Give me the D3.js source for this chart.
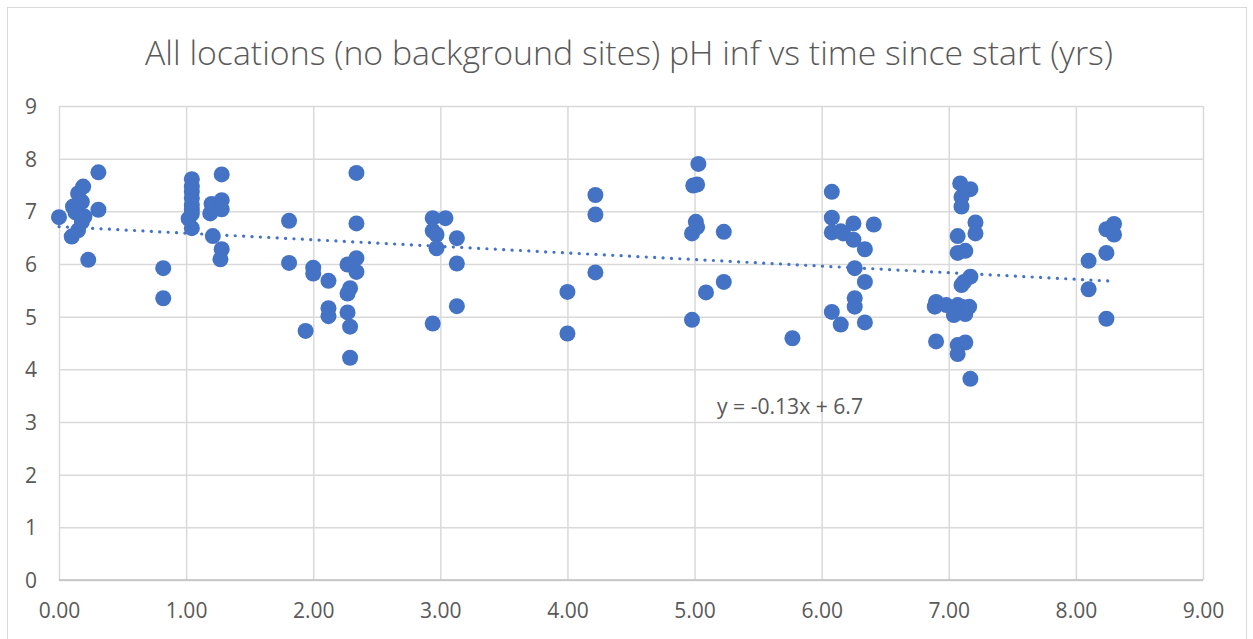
<!DOCTYPE html>
<html>
<head>
<meta charset="utf-8">
<script src="https://cdn.jsdelivr.net/npm/d3@7"></script>
<style>
  html, body { margin: 0; padding: 0; background: #fff; }
  svg { display: block; }
</style>
</head>
<body>
<svg id="chart" width="1253" height="639"></svg>
<script>
// ---- data ----
const chartTitle = "All locations (no background sites) pH inf vs time since start (yrs)";
const xTickValues = [0, 1, 2, 3, 4, 5, 6, 7, 8, 9];
const yTickValues = [0, 1, 2, 3, 4, 5, 6, 7, 8, 9];
const timeYrs = [
  0.00, 0.10, 0.11, 0.15, 0.15, 0.20, 0.18, 0.19, 0.18, 0.23, 0.31, 0.31, 0.13,
  0.82, 0.82,
  1.045, 1.045, 1.045, 1.045, 1.045, 1.045, 1.02, 1.045, 1.045,
  1.28, 1.20, 1.28, 1.28, 1.19, 1.21, 1.28, 1.27,
  1.81, 1.81, 1.94,
  2.00, 2.00, 2.12, 2.12, 2.12,
  2.34, 2.34, 2.34, 2.27, 2.34, 2.29, 2.27, 2.27, 2.29, 2.29,
  2.94, 3.04, 2.94, 2.97, 3.13, 2.97, 3.13, 3.13, 2.94,
  4.00, 4.00, 4.22, 4.22, 4.22,
  5.03, 4.99, 5.02, 5.01, 5.02, 4.98, 5.23, 5.09, 4.98, 5.23,
  5.77,
  6.08, 6.08, 6.08, 6.15, 6.17, 6.25, 6.25, 6.34, 6.41, 6.26, 6.34, 6.26, 6.26, 6.08, 6.15, 6.34,
  6.90, 6.89, 6.90, 6.98, 7.04, 7.03, 7.07, 7.10, 7.13, 7.16, 7.09, 7.17, 7.10, 7.10, 7.21, 7.21,
  7.07, 7.07, 7.13, 7.17, 7.10, 7.12, 7.07, 7.13, 7.07, 7.17,
  8.30, 8.24, 8.30, 8.24, 8.10, 8.10, 8.24
];
const phInf = [
  6.89, 6.52, 7.09, 7.34, 6.64, 6.90, 6.80, 7.47, 7.18, 6.08, 7.74, 7.03, 6.98,
  5.92, 5.35,
  7.61, 7.47, 7.37, 7.25, 7.12, 7.03, 6.86, 6.95, 6.68,
  7.70, 7.14, 7.21, 7.04, 6.96, 6.53, 6.28, 6.09,
  6.82, 6.02, 4.73,
  5.93, 5.82, 5.68, 5.16, 5.01,
  7.73, 6.77, 6.11, 5.99, 5.85, 5.54, 5.44, 5.08, 4.81, 4.22,
  6.87, 6.87, 6.63, 6.56, 6.49, 6.30, 6.01, 5.20, 4.87,
  5.47, 4.68, 7.31, 6.94, 5.84,
  7.90, 7.49, 7.51, 6.80, 6.70, 6.58, 6.61, 5.46, 4.94, 5.66,
  4.59,
  7.37, 6.88, 6.60, 6.62, 6.58, 6.77, 6.46, 6.28, 6.75, 5.92, 5.66, 5.35, 5.19, 5.09, 4.85, 4.89,
  5.28, 5.19, 4.53, 5.22, 5.03, 5.16, 5.22, 5.19, 5.05, 5.19, 7.53, 7.42, 7.27, 7.09, 6.79, 6.58,
  6.53, 6.21, 6.25, 5.76, 5.60, 5.66, 4.46, 4.51, 4.29, 3.82,
  6.76, 6.66, 6.56, 6.21, 6.06, 5.52, 4.96
];
const trendIntercept = 6.71;
const trendSlope = -0.125;
const trendLabel = "y = -0.13x + 6.7";

// ---- layout ----
const svg = d3.select("#chart");
const plot = { left: 59, right: 1203, top: 106, bottom: 580 };
const textColor = "#595959";
const gridColor = "#d9d9d9";
const markColor = "#4472C4";
const fontFam = "'Open Sans', 'Liberation Sans', sans-serif";

// chart frame
svg.append("rect")
  .attr("x", 7.5).attr("y", 7.5).attr("width", 1239).attr("height", 640)
  .attr("fill", "#fff").attr("stroke", gridColor).attr("stroke-width", 1);

const x = d3.scaleLinear().domain([0, 9]).range([plot.left, plot.right]);
const y = d3.scaleLinear().domain([0, 9]).range([plot.bottom, plot.top]);

// gridlines
const gy = svg.append("g").attr("transform", `translate(${plot.left},0)`)
  .call(d3.axisLeft(y).tickValues(yTickValues).tickSize(-(plot.right - plot.left)).tickFormat(""));
gy.select(".domain").remove();
gy.selectAll(".tick line").attr("stroke", gridColor).attr("stroke-width", 1.5);

const gx = svg.append("g").attr("transform", `translate(0,${plot.bottom})`)
  .call(d3.axisBottom(x).tickValues(xTickValues).tickSize(-(plot.bottom - plot.top)).tickFormat(""));
gx.select(".domain").remove();
gx.selectAll(".tick line").attr("stroke", gridColor).attr("stroke-width", 1.5);

// bottom axis line
svg.append("line")
  .attr("x1", plot.left).attr("x2", plot.right)
  .attr("y1", y(0)).attr("y2", y(0))
  .attr("stroke", "#bfbfbf").attr("stroke-width", 1.5);

// y tick labels
const yl = svg.append("g").attr("transform", `translate(37,0)`)
  .call(d3.axisLeft(y).tickValues(yTickValues).tickSize(0).tickPadding(0).tickFormat(d3.format("d")));
yl.select(".domain").remove();
yl.selectAll("text").attr("fill", textColor).style("font-family", fontFam).style("font-size", "21px")
  .attr("dy", "0.36em");

// x tick labels
const xl = svg.append("g").attr("transform", `translate(0,602)`)
  .call(d3.axisBottom(x).tickValues(xTickValues).tickSize(0).tickPadding(0).tickFormat(d3.format(".2f")));
xl.select(".domain").remove();
xl.selectAll("text").attr("fill", textColor).style("font-family", fontFam).style("font-size", "21px")
  .attr("dy", "0.76em");

// trendline
const xMax = d3.max(timeYrs);
const xMin = 0;
svg.append("line")
  .attr("x1", x(xMin)).attr("y1", y(trendIntercept + trendSlope * xMin))
  .attr("x2", x(xMax)).attr("y2", y(trendIntercept + trendSlope * xMax))
  .attr("stroke", markColor).attr("stroke-width", 3.2)
  .attr("stroke-linecap", "round").attr("stroke-dasharray", "0.1 8.3");

// points
const pts = timeYrs.map((t, i) => ({ t, p: phInf[i] }));
svg.append("g").selectAll("circle").data(pts).join("circle")
  .attr("cx", d => x(d.t)).attr("cy", d => y(d.p)).attr("r", 8)
  .attr("fill", markColor);

// title
const title = svg.append("text")
  .attr("x", 629).attr("y", 65).attr("text-anchor", "middle")
  .attr("fill", textColor).style("font-family", fontFam).style("font-weight", 300)
  .style("font-size", "30px").text(chartTitle);
const tw = title.node().getComputedTextLength();
title.style("font-size", (30 * 968 / tw).toFixed(2) + "px");

// equation label
const eq = svg.append("text")
  .attr("x", 790).attr("y", 414).attr("text-anchor", "middle")
  .attr("fill", textColor).style("font-family", fontFam)
  .style("font-size", "18px").text(trendLabel);
const ew = eq.node().getComputedTextLength();
eq.style("font-size", (18 * 146 / ew).toFixed(2) + "px");
</script>
</body>
</html>
